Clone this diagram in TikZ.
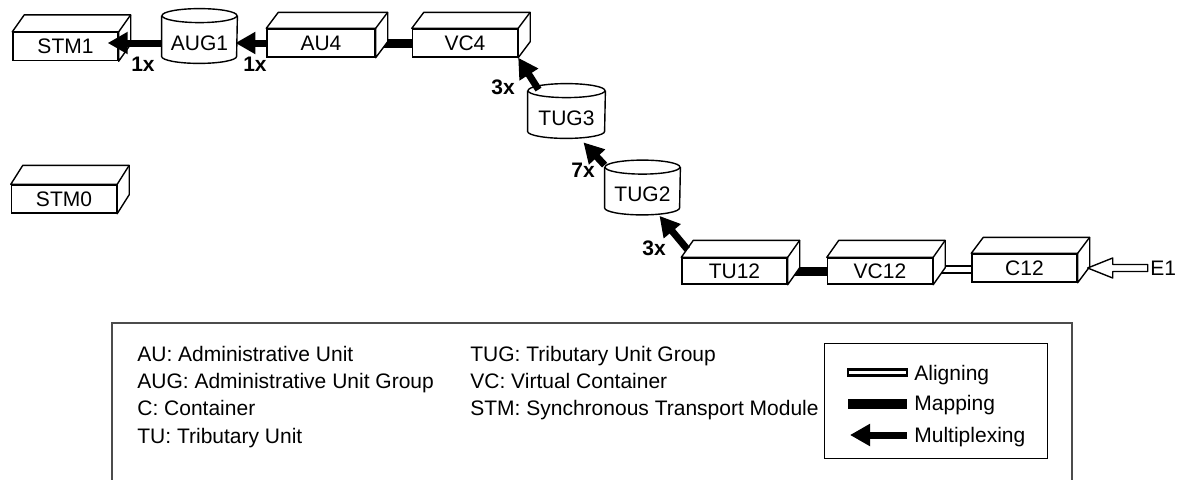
\documentclass[tikz,border=0pt]{standalone}
\usepackage{fontspec}
\setmainfont{Liberation Sans}
\usetikzlibrary{arrows.meta,calc}

\begin{document}
\begin{tikzpicture}[x=0.5pt,y=0.5pt,
  box/.style={draw,line width=0.7pt,fill=white,minimum width=52.5pt,minimum height=14pt,inner sep=0pt,font=\fontsize{10.5}{12}\selectfont},
  drum/.style={minimum width=37.5pt,minimum height=20pt,inner sep=0pt,font=\fontsize{10.5}{12}\selectfont},
  cnt/.style={inner sep=0pt,font=\bfseries\fontsize{10.5}{12}\selectfont},
  key/.style={anchor=base west,inner sep=0pt,font=\fontsize{10.5}{12}\selectfont},
  face/.style={line width=0.7pt,line join=round},
  mux/.style={line width=3.5pt,-{Triangle[length=10pt,width=10.5pt]}},
  map/.style={line width=4.5pt},
  align/.style={double,line width=1.1pt,double distance=2.6pt}]

\useasboundingbox (0,0) rectangle (1180,479);

% containers (front faces)
\node[box] (stm1) at (65.5,432.5) {STM1};
\node[box] (stm0) at (64,280) {STM0};
\node[box,minimum width=54pt] (au4) at (321,436) {AU4};
\node[box] (vc4) at (465,436) {VC4};
\node[box,minimum height=13pt] (tu12) at (734.5,208) {TU12};
\node[box,minimum height=13pt] (vc12) at (880,208) {VC12};
\node[box] (c12) at (1024.5,211) {C12};

% groups
\node[drum] (aug1) at (199.5,436) {AUG1};
\node[drum,minimum width=38.5pt] (tug3) at (566.5,361) {TUG3};
\node[drum] (tug2) at (642.5,284.5) {TUG2};

% mapping and aligning
\draw[map] (au4.east) -- (vc4.west);
\draw[map] (tu12.east) -- (vc12.west);
\draw[align] ($(vc12.east)+(0,1.5)$) -- ($(vc12.east -| c12.west)+(0,1.5)$);

% top and side of the boxes
\foreach \n/\d in {stm1/17,stm0/19,au4/16,vc4/16,tu12/17,vc12/17,c12/16} {
  \draw[face,fill=white] (\n.north west) -- ++(12,\d) -| ($(\n.south east)+(12,\d)$) -- (\n.south east) -- (\n.north east) -- cycle;
  \draw[face] (\n.north east) -- ++(12,\d);
}

% cylinders
\foreach \n/\r in {aug1/37.5,tug3/38.5,tug2/37.5} {
  \draw[face] ($(\n.north west)+(0,7)$) -- ($(\n.south west)+(0,7)$) arc[start angle=180,end angle=360,x radius=\r,y radius=7] -- ($(\n.north east)+(0,7)$);
  \draw[face] ($(\n.north)+(0,7)$) ellipse[x radius=\r,y radius=7];
}

% multiplexing
\draw[mux,shorten >=-5.5pt] (aug1.west) -- (aug1.west -| stm1.east);
\draw[mux,shorten >=-1pt] (au4.west) -- (au4.west -| aug1.east);
\draw[mux] ($(tug3.north)+(-28,8)$) -- (vc4.south east);
\draw[mux] ($(tug2.north west)+(0,9)$) -- ($(tug3.south)+(17,-4)$);
\draw[mux] ($(tu12.north west)+(6,8)$) -- ($(tug2.south)+(17,-1)$);

\node[cnt] (m1a) at (143,415) {1x};
\node[cnt] (m1b) at (255,415) {1x};
\node[cnt] (m3a) at (503,392) {3x};
\node[cnt] (m7) at (583,309) {7x};
\node[cnt] (m3b) at (654,231) {3x};

% E1 input
\node[anchor=west,inner sep=0pt,font=\fontsize{10.5}{12}\selectfont] (e1) at (1150,211) {E1};
\draw[face,fill=white] ($(c12.east)+(10,0)$) -- ++(25,10) -- ++(0,-6.5) -- ++(35,0) -- ++(0,-7) -- ++(-35,0) -- ++(0,-6.5) -- cycle;

% legend
\draw[line width=0.6pt,draw=black!70] (112,-5) |- (1072,156) -- (1072,-5);
\draw[line width=0.5pt] (824,21) rectangle (1047,136);

\node[key] (kau) at (137,117.5) {AU: Administrative Unit};
\node[key] (kaug) at (137,90.5) {AUG: Administrative Unit Group};
\node[key] (kc) at (137,63.5) {C: Container};
\node[key] (ktu) at (137,35.5) {TU: Tributary Unit};
\node[key] (ktug) at (470,117.5) {TUG: Tributary Unit Group};
\node[key] (kvc) at (470,90.5) {VC: Virtual Container};
\node[key] (kstm) at (470,63.5) {STM: Synchronous Transport Module};

\draw[line width=1.1pt] (848,103.5) rectangle (907,109.5);
\fill (848,70.5) rectangle (907,80.5);
\draw[mux] (907,44) -- (850,44);
\node[key] (kal) at (914,98.5) {Aligning};
\node[key] (kma) at (914,68.5) {Mapping};
\node[key] (kmu) at (914,36.5) {Multiplexing};

\end{tikzpicture}
\end{document}
